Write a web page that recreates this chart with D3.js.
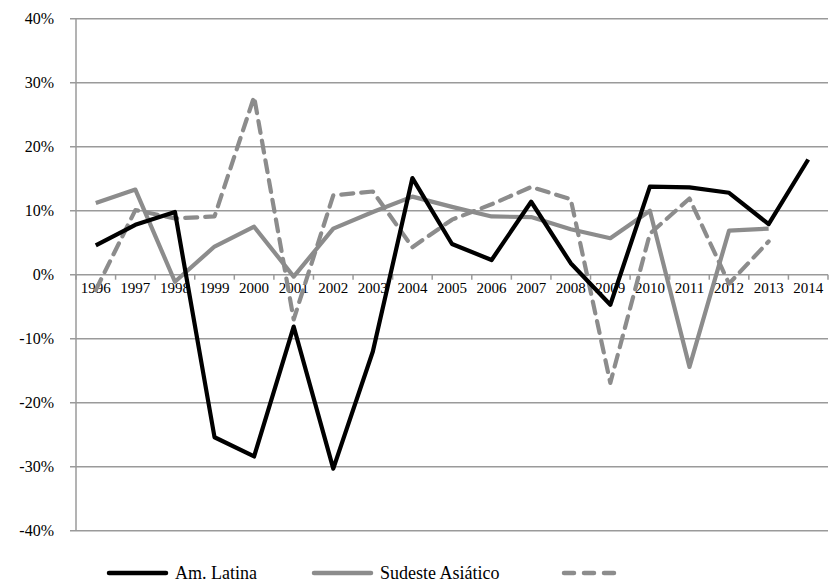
<!DOCTYPE html>
<html>
<head>
<meta charset="utf-8">
<script src="https://cdn.jsdelivr.net/npm/d3@7"></script>
<style>
  body { margin: 0; background: #fff; }
  svg text { font-family: "Liberation Serif", "DejaVu Serif", "Times New Roman", "Liberation Sans", sans-serif; }
</style>
</head>
<body>
<div id="chart"></div>
<script>
const years = ["1996","1997","1998","1999","2000","2001","2002","2003","2004","2005",
               "2006","2007","2008","2009","2010","2011","2012","2013","2014"];
const amLatina = [4.6, 7.8, 9.8, -25.4, -28.4, -8.1, -30.3, -12.0, 15.1, 4.8,
                  2.3, 11.4, 1.8, -4.7, 13.75, 13.65, 12.8, 7.9, 18.0];
const sudeste = [11.2, 13.3, -1.1, 4.4, 7.5, -0.3, 7.2, 9.8, 12.2, 10.6,
                 9.1, 9.0, 7.1, 5.7, 10.0, -14.4, 6.9, 7.2, null];
const dashed = [-2.4, 10.1, 8.8, 9.1, 27.8, -7.0, 12.4, 13.0, 4.3, 8.6,
                11.0, 13.7, 11.8, -16.9, 6.4, 11.9, -1.4, 5.2, null];
const yTicks = [40, 30, 20, 10, 0, -10, -20, -30, -40];

const W = 830, H = 584;
const svg = d3.select("#chart").append("svg")
    .attr("width", W).attr("height", H);

const x = d3.scaleBand().domain(years).range([76, 828]);
const y = d3.scaleLinear().domain([-40, 40]).range([530.7, 18.7]);

// grid
svg.append("g")
    .attr("class", "grid")
    .selectAll("line")
    .data(yTicks)
    .enter().append("line")
    .attr("x1", 70).attr("x2", 828)
    .attr("y1", d => y(d)).attr("y2", d => y(d))
    .attr("stroke", "#9a9a9a").attr("stroke-width", 1.5);

// y axis
const yAxis = svg.append("g")
    .attr("transform", "translate(76,0)")
    .call(d3.axisLeft(y).tickValues(yTicks).tickSize(0).tickPadding(22).tickFormat(d => d + "%"));
yAxis.select(".domain").remove();
yAxis.attr("font-family", null);
yAxis.selectAll("text").attr("font-size", 16).attr("fill", "#000");
svg.append("line")
    .attr("x1", 76).attr("x2", 76).attr("y1", y(40)).attr("y2", y(-40))
    .attr("stroke", "#9a9a9a").attr("stroke-width", 1.5);

// x axis on zero line
const xAxis = svg.append("g")
    .attr("transform", `translate(0,${y(0)})`)
    .call(d3.axisBottom(x).tickSize(0).tickPadding(8));
xAxis.select(".domain").remove();
xAxis.attr("font-family", null);
xAxis.selectAll("text").attr("font-size", 15).attr("fill", "#000");
svg.append("g").selectAll("line")
    .data(years.concat(["end"]))
    .enter().append("line")
    .attr("x1", (d, i) => x.range()[0] + i * x.bandwidth())
    .attr("x2", (d, i) => x.range()[0] + i * x.bandwidth())
    .attr("y1", y(0)).attr("y2", y(0) + 5)
    .attr("stroke", "#9a9a9a").attr("stroke-width", 1.5);

const line = d3.line()
    .defined(d => d.v !== null)
    .x(d => x(d.year) + x.bandwidth() / 2)
    .y(d => y(d.v));

const series = [
  {name: "Am. Latina", values: amLatina, color: "#000000", dash: null},
  {name: "Sudeste Asiático", values: sudeste, color: "#8c8c8c", dash: null},
  {name: "", values: dashed, color: "#8c8c8c", dash: "12,8"}
];

// draw order: dashed, gray, black on top
[series[2], series[1], series[0]].forEach(s => {
  svg.append("path")
      .datum(years.map((yr, i) => ({year: yr, v: s.values[i]})))
      .attr("fill", "none")
      .attr("stroke", s.color)
      .attr("stroke-width", 4.2)
      .attr("stroke-linejoin", "round")
      .attr("stroke-linecap", s.dash ? "round" : "butt")
      .attr("stroke-dasharray", s.dash)
      .attr("d", line);
});

// legend
const legendPos = [109, 314, 564];
const legend = svg.append("g");
series.forEach((s, i) => {
  const lx = legendPos[i];
  legend.append("line")
      .attr("x1", lx).attr("x2", lx + 57)
      .attr("y1", 573).attr("y2", 573)
      .attr("stroke", s.color)
      .attr("stroke-width", 4.5)
      .attr("stroke-linecap", "round")
      .attr("stroke-dasharray", s.dash ? "10,10" : null);
  if (s.name) {
    legend.append("text")
        .attr("x", lx + 66).attr("y", 579)
        .attr("font-size", 18)
        .text(s.name);
  }
});
</script>
</body>
</html>
